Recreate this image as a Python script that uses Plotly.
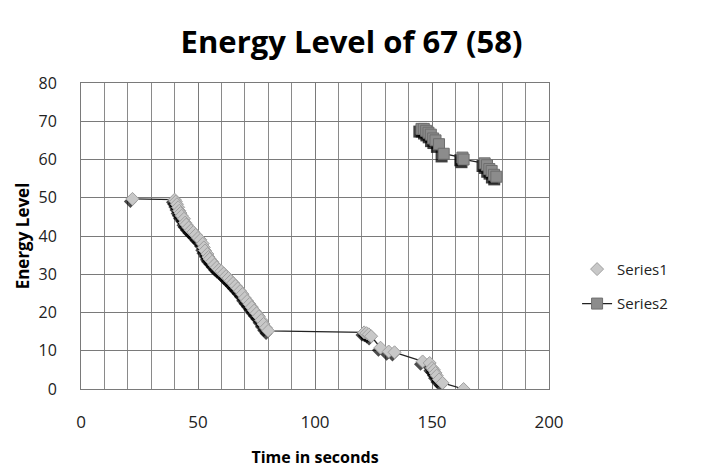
import plotly.graph_objects as go

title_text = "Energy Level of 67 (58)"
x_title = "Time in seconds"
y_title = "Energy Level"
x_ticks = [0, 50, 100, 150, 200]
y_ticks = [0, 10, 20, 30, 40, 50, 60, 70, 80]

# Series1: lower sequence (diamonds)
s1_x = [22, 40, 40.5, 41, 41.5, 42, 42.5, 43, 44, 44.5, 45, 46, 47, 48, 49, 50, 51, 52, 52.5, 53,
        54, 54.5, 55, 56, 57, 58, 59, 60, 61, 62, 63, 64, 65, 66, 67, 68, 69, 70, 71, 72, 73, 74,
        75, 76, 77, 78, 79, 80, 121, 122, 123, 124, 128, 131.5, 134, 146, 149, 150, 150.8, 151.5,
        152, 153, 154.5, 163.5]
s1_y = [49.7, 49.5, 49, 48.3, 47.5, 46.6, 46, 45.3, 44.5, 43.5, 43, 42.2, 41.5, 41, 40.3, 39.5,
        39, 38, 37, 36.2, 35.3, 34.5, 34, 33.3, 32.5, 31.8, 31.2, 30.8, 30.2, 29.5, 29, 28.3, 27.7,
        27, 26.3, 25.6, 24.8, 23.8, 23, 22.2, 21.4, 20.5, 19.8, 19, 18, 17, 16, 15.2, 14.8, 14.6,
        14.3, 13.8, 10.8, 9.8, 9.6, 7.2, 6.8, 5.5, 5, 4.2, 3.5, 2.5, 1.6, 0]

# Series2: upper cluster (squares with line)
s2_x = [145.5, 146.5, 147.5, 148.5, 149.5, 150.5, 151.5, 153, 155, 163, 163.5, 172.5, 173.5,
        174.5, 175.5, 176.5, 177.5]
s2_y = [68, 68, 67.5, 67, 66.5, 65.5, 65, 64, 61.5, 60.5, 60, 59, 58.5, 57.5, 57, 56, 55.5]

font_main = "Open Sans"
shadow_dx, shadow_dy = -0.9, -0.7

fig = go.Figure()

# connecting line along the lower sequence
fig.add_trace(go.Scatter(x=s1_x, y=s1_y, mode="lines", line=dict(color="#222222", width=1.3),
                         legendgroup="g2", showlegend=False, hoverinfo="skip"))

# shadows
fig.add_trace(go.Scatter(x=[v + shadow_dx for v in s1_x], y=[v + shadow_dy for v in s1_y],
                         mode="markers", marker=dict(symbol="diamond", size=10, color="rgba(0,0,0,0.7)"),
                         showlegend=False, hoverinfo="skip"))
fig.add_trace(go.Scatter(x=[v + shadow_dx for v in s2_x], y=[v + shadow_dy for v in s2_y],
                         mode="markers", marker=dict(symbol="square", size=12, color="rgba(0,0,0,0.75)"),
                         showlegend=False, hoverinfo="skip"))

fig.add_trace(go.Scatter(x=s1_x, y=s1_y, mode="markers", name="Series1",
                         legendgroup="g1", legendrank=1,
                         marker=dict(symbol="diamond", size=10, color="#c8c8c8",
                                     line=dict(color="#a0a0a0", width=1))))
fig.add_trace(go.Scatter(x=s2_x, y=s2_y, mode="lines+markers", name="Series2",
                         legendgroup="g2", legendrank=2,
                         line=dict(color="#222222", width=1.3),
                         marker=dict(symbol="square", size=11, color="#8c8c8c",
                                     line=dict(color="#6e6e6e", width=1))))

fig.update_layout(
    width=703, height=468,
    margin=dict(l=81, r=154, t=83, b=79),
    paper_bgcolor="white", plot_bgcolor="white",
    title=dict(text="<b>" + title_text + "</b>", x=0.5, xanchor="center", y=0.91, yanchor="middle",
               font=dict(family=font_main, size=31, color="black")),
    showlegend=True,
    legend=dict(x=1.06, xanchor="left", y=0.445, yanchor="top", traceorder="grouped",
                tracegroupgap=12, font=dict(family=font_main, size=15, color="#222"),
                bgcolor="rgba(0,0,0,0)"),
    font=dict(family=font_main),
)
fig.update_xaxes(range=[0, 200], tickvals=x_ticks, showgrid=True, gridcolor="#7a7a7a", gridwidth=1,
                 minor=dict(dtick=10, showgrid=True, gridcolor="#8a8a8a", gridwidth=1),
                 showline=True, linecolor="#7a7a7a", mirror=True, zeroline=False,
                 ticks="", ticklabelstandoff=18, automargin=False,
                 tickfont=dict(family=font_main, size=17, color="#222"),
                 title=dict(text="<b>" + x_title + "</b>", font=dict(family=font_main, size=16, color="black"),
                            standoff=20))
fig.update_yaxes(range=[0, 80], tickvals=y_ticks, showgrid=True, gridcolor="#7a7a7a", gridwidth=1,
                 showline=True, linecolor="#7a7a7a", mirror=True, zeroline=False,
                 ticks="", ticklabelstandoff=20, automargin=False,
                 tickfont=dict(family=font_main, size=16, color="#222"),
                 title=dict(text="<b>" + y_title + "</b>", font=dict(family=font_main, size=17, color="black"),
                            standoff=4))

fig.write_html("out.html")
